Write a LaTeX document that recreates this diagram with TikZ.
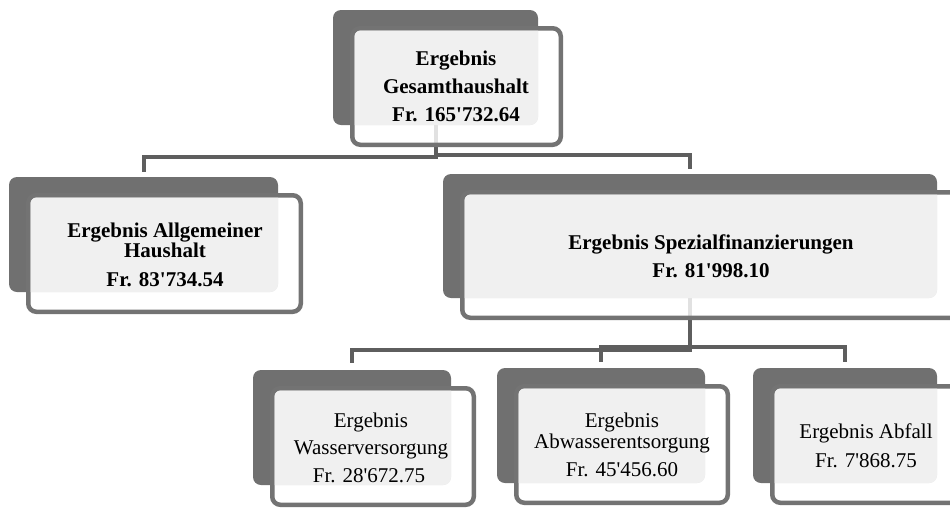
\documentclass[tikz,border=0pt]{standalone}
\usepackage{fontspec}
\setmainfont{Liberation Serif}
\usetikzlibrary{calc}
\definecolor{darkfill}{HTML}{707070}
\definecolor{framecol}{HTML}{737373}
\definecolor{lightfill}{HTML}{F0F0F0}
\definecolor{conncol}{HTML}{5E5E5E}
\tikzset{
  darkbox/.style={fill=darkfill, draw=none, rounded corners=8pt, inner sep=0pt, outer sep=0pt},
  framebox/.style={draw=framecol, line width=4.5pt, fill=white, fill opacity=0.82, draw opacity=1, rounded corners=8pt},
  conn/.style={draw=conncol, line width=4pt},
  txt/.style={anchor=base, inner sep=0pt, font=\fontsize{21}{25}\selectfont, text=black},
  btxt/.style={txt, font=\fontsize{21}{25}\selectfont\bfseries},
}
\newcommand\q{\textquotesingle}
\newcommand\darkunit[5]{%
  \node[darkbox, minimum width={(#4-#2)*1pt}, minimum height={(#5-#3)*1pt}] (#1) at ({(#2+#4)/2},{(#3+#5)/2}) {};}
\newcommand\frameunit[1]{%
  \draw[framebox] ($(#1.north west)+(19.25,18.25)$) rectangle ($(#1.south east)+(22.75,19.75)$);
  \begin{scope}
    \clip[rounded corners=8pt] (#1.north west) rectangle (#1.south east);
    \fill[lightfill, rounded corners=6pt] ($(#1.north west)+(21.5,20.5)$) rectangle ($(#1.south east)+(20.5,17.5)$);
  \end{scope}}
\begin{document}
\begin{tikzpicture}[x=1pt,y=-1pt]
\useasboundingbox (0,0) rectangle (950,507);
\clip (0,0) rectangle (950,507);
% dark back panels
\darkunit{top}{333}{10}{538}{125}
\darkunit{alg}{9}{177}{278}{292}
\darkunit{spez}{443}{174}{937}{298}
\darkunit{wass}{253}{370}{451}{485}
\darkunit{abw}{497}{368}{705}{483}
\darkunit{abf}{753}{368}{937}{483}
% connectors
\draw[conn] (top.south) -- ++(0,31.5) -| ($(alg.north)+(0,-5)$);
\draw[conn] (top.south) -- ++(0,29.5) -| ($(spez.north)+(0,-5)$);
\draw[conn] (spez.south) -- ++(0,52) -| ($(wass.north)+(0,-7)$);
\draw[conn] (spez.south) -- ++(0,49) -| ($(abw.north)+(0,-6)$);
\draw[conn] (spez.south) -- ++(0,49) -| ($(abf.north)+(0,-6)$);
% frames and light panels
\frameunit{top}
\frameunit{alg}
\frameunit{spez}
\frameunit{wass}
\frameunit{abw}
\frameunit{abf}
% texts
\node[btxt] (t1) at (456,65) {Ergebnis};
\node[btxt] (t2) at (456,93) {Gesamthaushalt};
\node[btxt] (t3) at (456,121) {Fr. 165\q732.64};
\node[btxt] (a1) at (165,237) {Ergebnis Allgemeiner};
\node[btxt] (a2) at (165,257) {Haushalt};
\node[btxt] (a3) at (165,286) {Fr. 83\q734.54};
\node[btxt] (s1) at (711,249) {Ergebnis Spezialfinanzierungen};
\node[btxt] (s2) at (711,277) {Fr. 81\q998.10};
\node[txt] (w1) at (371,427) {Ergebnis};
\node[txt] (w2) at (371,454) {Wasserversorgung};
\node[txt] (w3) at (369,482) {Fr. 28\q672.75};
\node[txt] (b1) at (622,427) {Ergebnis};
\node[txt] (b2) at (622,448) {Abwasserentsorgung};
\node[txt] (b3) at (622,476) {Fr. 45\q456.60};
\node[txt] (f1) at (866,438) {Ergebnis Abfall};
\node[txt] (f2) at (866,467) {Fr. 7\q868.75};
\end{tikzpicture}
\end{document}
